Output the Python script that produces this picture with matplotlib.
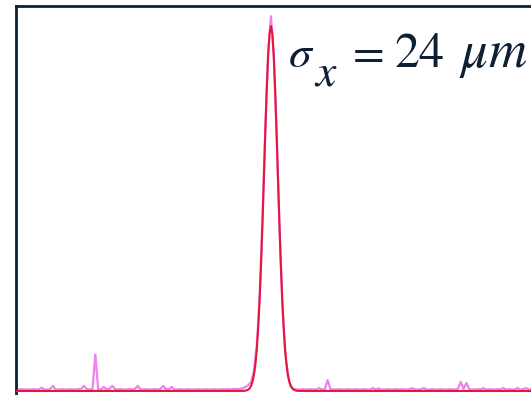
import numpy as np
import matplotlib.pyplot as plt

# measured profile (um, normalised intensity), 10 um steps
x_data = np.arange(-900, 921, 10)
y_data = [
    0.004, 0.004, 0.005, 0.004, 0.004, 0.004, 0.005, 0.004, 0.004, 0.009,
    0.004, 0.004, 0.005, 0.014, 0.004, 0.004, 0.005, 0.004, 0.004, 0.005,
    0.004, 0.004, 0.005, 0.006, 0.014, 0.005, 0.004, 0.005, 0.100, 0.005,
    0.004, 0.011, 0.004, 0.006, 0.014, 0.005, 0.004, 0.005, 0.004, 0.004,
    0.005, 0.004, 0.006, 0.014, 0.004, 0.004, 0.005, 0.004, 0.004, 0.005,
    0.004, 0.006, 0.014, 0.004, 0.005, 0.011, 0.004, 0.004, 0.005, 0.004,
    0.004, 0.005, 0.004, 0.004, 0.005, 0.004, 0.004, 0.005, 0.004, 0.004,
    0.005, 0.004, 0.004, 0.005, 0.004, 0.005, 0.004, 0.006, 0.005, 0.006,
    0.007, 0.011, 0.016, 0.025, 0.055, 0.125, 0.260, 0.470, 0.720, 0.930,
    1.027, 0.920, 0.700, 0.450, 0.240, 0.105, 0.040, 0.012, 0.005, 0.004,
    0.004, 0.005, 0.004, 0.004, 0.005, 0.004, 0.004, 0.008, 0.004, 0.005,
    0.030, 0.005, 0.004, 0.004, 0.005, 0.004, 0.004, 0.005, 0.004, 0.004,
    0.005, 0.004, 0.004, 0.005, 0.004, 0.004, 0.008, 0.004, 0.007, 0.004,
    0.004, 0.005, 0.004, 0.004, 0.005, 0.004, 0.005, 0.004, 0.004, 0.005,
    0.008, 0.004, 0.004, 0.005, 0.008, 0.004, 0.004, 0.005, 0.004, 0.004,
    0.005, 0.004, 0.004, 0.005, 0.004, 0.004, 0.006, 0.025, 0.006, 0.022,
    0.005, 0.004, 0.004, 0.005, 0.004, 0.008, 0.004, 0.005, 0.004, 0.004,
    0.005, 0.004, 0.008, 0.004, 0.005, 0.004, 0.004, 0.008, 0.004, 0.005,
    0.008, 0.004, 0.005,
]

# gaussian fit (sigma ~ 24 um)
x_fit = np.concatenate([[-900], np.arange(-100, 101, 5), [920]])
y_fit = [
    0.0,
    0.0002, 0.0004, 0.0009, 0.0019, 0.0039, 0.0076, 0.0142, 0.0255,
    0.0439, 0.0724, 0.1141, 0.1724, 0.2494, 0.3453, 0.4578, 0.5813,
    0.7066, 0.8226, 0.9168, 0.9785, 1.0,
    0.9785, 0.9168, 0.8226, 0.7066, 0.5813, 0.4578, 0.3453, 0.2494,
    0.1724, 0.1141, 0.0724, 0.0439, 0.0255, 0.0142, 0.0076, 0.0039,
    0.0019, 0.0009, 0.0004, 0.0002,
    0.0,
]

plt.rcParams['mathtext.fontset'] = 'stix'

W, H = 531, 395
fig = plt.figure(figsize=(W / 100, H / 100), dpi=100)
ax = fig.add_axes([16 / W, 0, 1 - 16 / W, 389 / H])

ax.plot(x_data, y_data, color='#ee82ee', lw=1.6, zorder=2)
ax.plot(x_fit, y_fit, color='#e3173a', lw=1.5, zorder=3)

ax.set_xlim(-900, 918)
ax.set_ylim(-0.011, 1.055)
ax.set_xticks([])
ax.set_yticks([])
for side in ['bottom', 'right']:
    ax.spines[side].set_visible(False)
for side in ['left', 'top']:
    ax.spines[side].set_color('#0d2235')
    ax.spines[side].set_linewidth(2.0)

# equation label, placed piece by piece (pixel positions)
ink = '#0d1f33'
pieces = [
    (r'$\sigma$', 288, 67, 33),
    (r'$x$', 314, 86, 33),
    ('=', 353, 67, 33),
    ('24', 394, 67, 36),
    (r'$\mu m$', 459, 67, 38),
]
for txt, px, py, fs in pieces:
    fig.text(px / W, 1 - py / H, txt, fontsize=fs, color=ink,
             family='STIXGeneral', ha='left', va='baseline')

fig.savefig('out.png', dpi=100)
